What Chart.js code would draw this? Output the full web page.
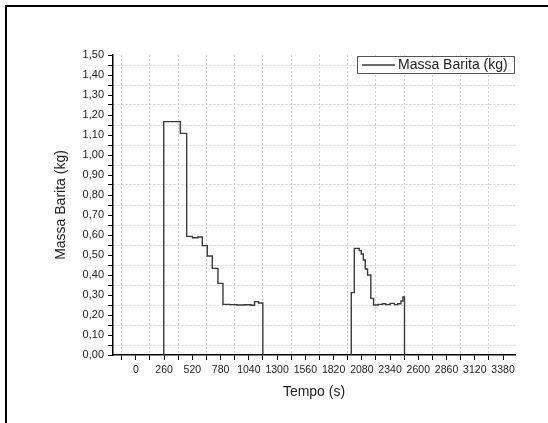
<!DOCTYPE html>
<html>
<head>
<meta charset="utf-8">
<script src="https://cdn.jsdelivr.net/npm/chart.js@4/dist/chart.umd.min.js"></script>
<style>
  body { margin: 0; background: #fff; overflow: hidden; }
  .wrap { position: relative; width: 548px; height: 423px; }
  .frame { position: absolute; left: 5px; top: 5px; width: 600px; height: 500px; border: 2px solid #000; pointer-events: none; }
</style>
</head>
<body>
<div class="wrap">
  <canvas id="myChart" width="548" height="423"></canvas>
  <div class="frame"></div>
</div>
<script>
// Tempo (s) and Massa Barita (kg)
const tempo = [257, 257, 410, 468, 521, 572, 612, 658, 704, 756, 802, 860, 930, 1000, 1060, 1093, 1129, 1169,
  1570,
  1983, 1983, 2011, 2057, 2075, 2094, 2112, 2133, 2163, 2188, 2230, 2270, 2300, 2340, 2380, 2410, 2440, 2458, 2473];
const massa = [0, 1.167, 1.108, 0.593, 0.586, 0.590, 0.547, 0.495, 0.433, 0.358, 0.253, 0.252, 0.250, 0.251, 0.249, 0.267, 0.260, 0,
  null,
  0, 0.312, 0.533, 0.522, 0.505, 0.475, 0.430, 0.400, 0.283, 0.250, 0.253, 0.256, 0.252, 0.258, 0.252, 0.256, 0.270, 0.290, 0];

const tempoTicks = [0, 260, 520, 780, 1040, 1300, 1560, 1820, 2080, 2340, 2600, 2860, 3120, 3380];
const massaTicks = [0, 0.1, 0.2, 0.3, 0.4, 0.5, 0.6, 0.7, 0.8, 0.9, 1.0, 1.1, 1.2, 1.3, 1.4, 1.5];

const seriesLabel = "Massa Barita (kg)";
const FONT = "'Liberation Sans', Arial, sans-serif";

// major ticks get labels, minor ticks (midpoints) get the dotted grid
const withMinor = (majors, before) => {
  const out = [];
  const step = majors[1] - majors[0];
  if (before) out.push({ value: majors[0] - step / 2, minor: true });
  majors.forEach((v, i) => {
    out.push({ value: v, minor: false });
    if (i < majors.length - 1) out.push({ value: (v + majors[i + 1]) / 2, minor: true });
  });
  return out;
};

const legendBox = {
  id: "legendBox",
  afterDraw(chart) {
    const { ctx, chartArea } = chart;
    const ds = chart.data.datasets[0];
    const w = 157, h = 17;
    const x = chartArea.right - w - 1, y = chartArea.top + 1;
    ctx.save();
    ctx.fillStyle = "#fff";
    ctx.fillRect(x, y, w, h);
    ctx.strokeStyle = "#555";
    ctx.lineWidth = 1;
    ctx.strokeRect(x + 0.5, y + 0.5, w, h);
    ctx.strokeStyle = ds.borderColor;
    ctx.lineWidth = 1.3;
    ctx.beginPath();
    ctx.moveTo(x + 5, y + h / 2 + 0.5);
    ctx.lineTo(x + 38, y + h / 2 + 0.5);
    ctx.stroke();
    ctx.fillStyle = "#222";
    ctx.font = "14px " + FONT;
    ctx.textBaseline = "middle";
    ctx.fillText(ds.label, x + 41, y + h / 2 + 1);
    ctx.restore();
  },
};

new Chart(document.getElementById("myChart"), {
  type: "line",
  data: {
    datasets: [
      {
        label: seriesLabel,
        data: tempo.map((t, i) => ({ x: t, y: massa[i] })),
        borderColor: "#3a3a3a",
        borderWidth: 1.4,
        pointRadius: 0,
        stepped: true,
        fill: false,
      },
    ],
  },
  options: {
    responsive: false,
    animation: false,
    layout: { padding: { left: 0, top: 55, right: 33, bottom: 0 } },
    plugins: { legend: { display: false }, tooltip: { enabled: false } },
    scales: {
      x: {
        type: "linear",
        min: -210,
        max: 3490,
        afterBuildTicks: (scale) => { scale.ticks = withMinor(tempoTicks, true); },
        afterFit: (scale) => { scale.height = 68; },
        ticks: {
          autoSkip: false,
          maxRotation: 0,
          padding: 4,
          color: "#222",
          font: { family: FONT, size: 10.5 },
          callback: (v, i, ticks) => (ticks[i].minor ? "" : String(v)),
        },
        grid: {
          color: (c) => (c.tick && c.tick.minor ? "#cfcfcf" : "rgba(0,0,0,0)"),
          tickColor: "#000",
          tickLength: 5,
          lineWidth: 1,
        },
        border: { color: "#000", width: 1.5, dash: [2, 2] },
        title: {
          display: true,
          text: "Tempo (s)",
          color: "#222",
          font: { family: FONT, size: 14 },
          padding: { top: 0, bottom: 22.6 },
        },
      },
      y: {
        min: 0,
        max: 1.5,
        afterBuildTicks: (scale) => { scale.ticks = withMinor(massaTicks, false); },
        afterFit: (scale) => { scale.width = 113; },
        ticks: {
          autoSkip: false,
          padding: 4,
          color: "#222",
          font: { family: FONT, size: 11 },
          callback: (v, i, ticks) => (ticks[i].minor ? "" : v.toFixed(2).replace(".", ",")),
        },
        grid: {
          color: (c) => (c.tick && c.tick.minor ? "#cfcfcf" : "rgba(0,0,0,0)"),
          tickColor: "#000",
          tickLength: 5,
          lineWidth: 1,
        },
        border: { color: "#000", width: 1.5, dash: [2, 2] },
        title: {
          display: true,
          text: "Massa Barita (kg)",
          color: "#222",
          font: { family: FONT, size: 14 },
          padding: { top: 52.6, bottom: 0 },
        },
      },
    },
  },
  plugins: [legendBox],
});
</script>
</body>
</html>
